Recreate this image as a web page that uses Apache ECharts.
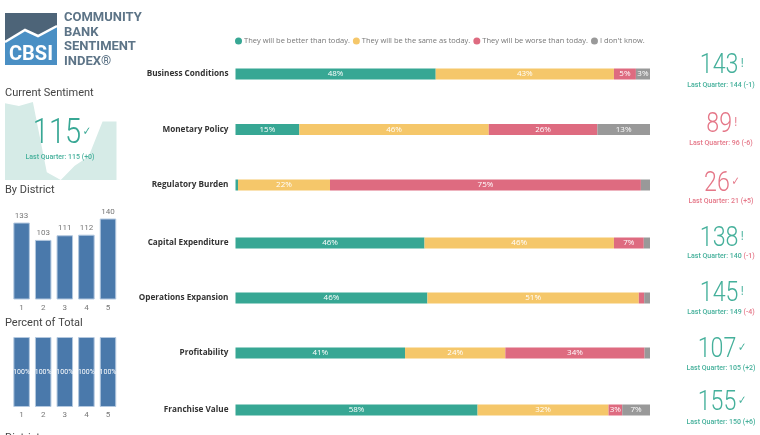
<!DOCTYPE html>
<html style="height: 100%">
<head>
    <meta charset="utf-8">
    <style>
        html,body {
            height: 100%;
            margin: 0;
            padding: 0;
            overflow: hidden;
            background: #fff;
        }
        #container { width: 760px; height: 435px; }
    </style>
</head>
<body>
    <div id="container"></div>
    <script src="https://cdn.jsdelivr.net/npm/echarts@6/dist/echarts.min.js"></script>
    <script>
        var rows = ['Business Conditions', 'Monetary Policy', 'Regulatory Burden', 'Capital Expenditure', 'Operations Expansion', 'Profitability', 'Franchise Value'];
        var responses = ['They will be better than today.', 'They will be the same as today.', 'They will be worse than today.', "I don't know."];
        var better = [48.3, 15.4, 0.6, 45.6, 46.3, 40.9, 58.4];
        var same = [43.0, 45.7, 22.2, 45.7, 51.0, 24.2, 31.6];
        var worse = [5.3, 26.2, 75.0, 7.2, 1.3, 33.6, 3.3];
        var dontKnow = [3.4, 12.7, 2.2, 1.5, 1.4, 1.3, 6.7];

        var kpiNow = [143, 89, 26, 138, 145, 107, 155];
        var kpiLast = [144, 96, 21, 140, 149, 105, 150];
        var kpiDelta = ['-1', '-6', '+5', '-1', '-4', '+2', '+6'];
        var kpiGood = [true, false, false, true, true, true, true];
        var kpiDeltaBad = [false, false, false, true, true, false, false];
        var kpiGlyph = ['!', '!', '\u2713', '!', '!', '\u2713', '\u2713'];

        var districts = ['1', '2', '3', '4', '5'];
        var districtValues = [133, 103, 111, 112, 140];
        var percentValues = [100, 100, 100, 100, 100];
        var sentimentTrend = [119, 117, 120, 66, 60, 71, 78, 105, 105];

        var font = '"Open Sans", sans-serif';
        var din = 'Roboto, sans-serif';
        var green = '#37a794', yellow = '#f5c76a', pink = '#de6b80', gray = '#999999';
        var colors = [green, yellow, pink, gray];
        var rowValues = [better, same, worse, dontKnow];
        var rowY = [74, 129.5, 185, 243, 298, 353, 410];
        var kpiY = [66, 125, 184, 239, 294, 350, 403];
        var kpiSubY = [85, 143, 201, 256, 312, 368, 422];

        var grids = [], xAxes = [], yAxes = [], series = [], graphic = [];

        rows.forEach(function (name, r) {
            grids.push({ left: 235.5, width: 414.5, top: rowY[r] - 6, height: 12 });
            xAxes.push({ gridIndex: r, type: 'value', min: 0, max: 100, show: false });
            yAxes.push({
                gridIndex: r, type: 'category', data: [name],
                axisLine: { show: false }, axisTick: { show: false },
                axisLabel: { fontFamily: font, fontSize: 8.2, fontWeight: 'bold', color: '#333', margin: 7, padding: [2, 0, 0, 0] }
            });
            responses.forEach(function (resp, s) {
                series.push({
                    name: resp, type: 'bar', stack: 'row' + r, xAxisIndex: r, yAxisIndex: r,
                    data: [rowValues[s][r]], barWidth: 11,
                    itemStyle: { color: colors[s] },
                    label: {
                        show: rowValues[s][r] >= 3,
                        position: 'inside', color: '#fff', fontFamily: font, fontSize: 8, fontWeight: 500,
                        formatter: function (p) { return Math.round(p.value) + '%'; }
                    }
                });
            });
        });

        // small panels on the left
        var g = rows.length;
        grids.push({ left: 5, width: 111.5, top: 102, height: 78 });
        xAxes.push({ gridIndex: g, type: 'category', boundaryGap: false, show: false, data: sentimentTrend.map(function (v, i) { return i; }) });
        yAxes.push({ gridIndex: g, type: 'value', min: 60, max: 120, show: false });
        series.push({
            type: 'line', xAxisIndex: g, yAxisIndex: g, data: sentimentTrend, symbol: 'none',
            lineStyle: { width: 0 }, areaStyle: { color: '#d6ebe7', opacity: 1 }
        });

        function districtPanel(idx, top, height, values, max, label) {
            grids.push({ left: 10.8, width: 108, top: top, height: height });
            xAxes.push({
                gridIndex: idx, type: 'category', data: districts,
                axisLine: { show: false }, axisTick: { show: false },
                axisLabel: { fontFamily: din, fontSize: 8, color: '#777', margin: 4 }
            });
            yAxes.push({ gridIndex: idx, type: 'value', min: 0, max: max, show: false });
            series.push({
                type: 'bar', xAxisIndex: idx, yAxisIndex: idx, data: values, barWidth: 16.5,
                itemStyle: { color: '#4a79ab', borderColor: '#b3c8df', borderWidth: 1 },
                label: label
            });
        }
        districtPanel(g + 1, 218.5, 81, districtValues, 140, { show: true, position: 'top', distance: 3, color: '#777', fontFamily: din, fontSize: 8 });
        districtPanel(g + 2, 337, 70, percentValues, 100, {
            show: true, position: 'inside', color: '#fff', fontFamily: din, fontSize: 7,
            formatter: function (p) { return p.value + '%'; }
        });

        function titleText(text, y) {
            graphic.push({ type: 'text', left: 5, top: y - 4, style: { text: text, fontFamily: din, fontSize: 11, fill: '#444' } });
        }
        titleText('Current Sentiment', 92);
        titleText('By District', 189);
        titleText('Percent of Total', 322);
        titleText('District', 437);

        // logo
        graphic.push({ type: 'rect', shape: { x: 5, y: 13, width: 52, height: 52 }, style: { fill: '#4a8fc4' } });
        graphic.push({ type: 'polygon', shape: { points: [[5, 13], [57, 13], [57, 26], [38, 36], [25, 30], [5, 42]] }, style: { fill: '#4d6478' } });
        graphic.push({ type: 'polyline', shape: { points: [[5, 42], [25, 30], [38, 36], [57, 26]] }, style: { stroke: '#fff', lineWidth: 2.5, fill: 'none' } });
        graphic.push({ type: 'text', x: 31, y: 55, style: { text: 'CBSI', fontFamily: din, fontWeight: 'bold', fontSize: 20, fill: '#fff', align: 'center', verticalAlign: 'middle' } });
        ['COMMUNITY', 'BANK', 'SENTIMENT', 'INDEX\u00ae'].forEach(function (t, i) {
            graphic.push({ type: 'text', x: 64, y: 18 + i * 14.5, style: { text: t, fontFamily: din, fontWeight: 'bold', fontSize: 13, fill: '#5d7487', verticalAlign: 'middle' } });
        });

        // big number with its status glyph, squeezed sideways like the narrow face of the original
        function bigNumber(text, glyph, x, y, size, c) {
            graphic.push({ type: 'text', x: x, y: y, scaleX: 0.83, z: 10, style: {
                text: '{n|' + text + '}{g|' + glyph + '}', align: 'center', verticalAlign: 'middle',
                rich: {
                    n: { fontFamily: din, fontWeight: 300, fontSize: size, fill: c, color: c },
                    g: { fontSize: 12, fill: c, color: c, fontFamily: 'DejaVu Sans', padding: [0, 0, 4, 2] }
                }
            } });
        }

        // current sentiment card
        bigNumber(115, '\u2713', 62, 134, 35, green);
        graphic.push({ type: 'text', x: 60, y: 157, z: 10, style: {
            text: 'Last Quarter: 115 (+0)', align: 'center', verticalAlign: 'middle', fontFamily: din, fontWeight: 500, fontSize: 7, fill: '#45b09b'
        } });

        // KPI cards on the right
        kpiNow.forEach(function (v, i) {
            var c = kpiGood[i] ? '#45b09b' : '#e57788';
            bigNumber(v, kpiGlyph[i], 722, kpiY[i], 28, c);
            graphic.push({ type: 'text', x: 721, y: kpiSubY[i], style: {
                text: '{a|Last Quarter: ' + kpiLast[i] + ' }{b|(' + kpiDelta[i] + ')}', align: 'center', verticalAlign: 'middle',
                rich: {
                    a: { fontFamily: din, fontWeight: 500, fontSize: 7, fill: c, color: c },
                    b: { fontFamily: din, fontWeight: 500, fontSize: 7, fill: kpiDeltaBad[i] ? '#e57788' : c, color: kpiDeltaBad[i] ? '#e57788' : c }
                }
            } });
        });

        var myChart = echarts.init(document.getElementById('container'));
        myChart.setOption({
            animation: false,
            legend: {
                left: 235, top: 37, data: responses, icon: 'circle', itemWidth: 7, itemHeight: 7, itemGap: 3, padding: 0,
                textStyle: { fontFamily: font, fontSize: 7.5, color: '#777', padding: [0, 0, 0, -3] }
            },
            grid: grids,
            xAxis: xAxes,
            yAxis: yAxes,
            series: series,
            graphic: graphic
        });
    </script>
</body>
</html>
